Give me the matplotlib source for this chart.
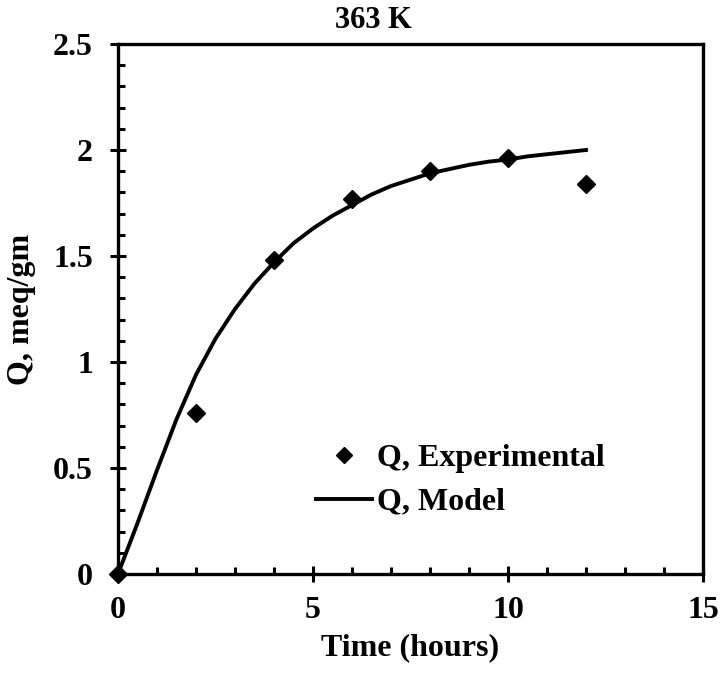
import matplotlib
matplotlib.use("Agg")
import matplotlib.pyplot as plt
from matplotlib.ticker import MultipleLocator

# Data
exp_time = [0, 2, 4, 6, 8, 10, 12]
exp_q = [0, 0.76, 1.48, 1.77, 1.90, 1.96, 1.84]

model_time = [0, 0.5, 1, 1.5, 2, 2.5, 3, 3.5, 4, 4.5, 5, 5.5, 6, 6.5, 7,
              7.5, 8, 8.5, 9, 9.5, 10, 10.5, 11, 11.5, 12]
model_q = [0, 0.24, 0.49, 0.73, 0.94, 1.11, 1.25, 1.37, 1.47, 1.56, 1.63,
           1.69, 1.74, 1.79, 1.83, 1.86, 1.89, 1.91, 1.93, 1.945, 1.955,
           1.97, 1.98, 1.99, 2.00]

title = "363 K"
xlabel = "Time (hours)"
ylabel = "Q, meq/gm"
labels = ["Q, Experimental", "Q, Model"]

plt.rcParams['font.family'] = ['Liberation Serif', 'DejaVu Serif']
plt.rcParams['font.weight'] = 'bold'

W, H = 722, 677
fig = plt.figure(figsize=(W / 100, H / 100), dpi=100)
ax = fig.add_axes([118 / W, 1 - 574 / H, (703 - 118) / W, (574 - 44) / H])

ax.plot(model_time, model_q, color='black', lw=2.8, label=labels[1], zorder=2,
        solid_joinstyle='round')
ax.plot(exp_time, exp_q, linestyle='none', marker='D', color='black',
        markersize=9, label=labels[0], zorder=3, clip_on=False)

ax.set_xlim(0, 15)
ax.set_ylim(0, 2.5)
ax.xaxis.set_minor_locator(MultipleLocator(1))
ax.yaxis.set_minor_locator(MultipleLocator(0.1))
ax.set_xticks([0, 5, 10, 15])
ax.set_xticklabels(['0', '5', '10', '15'])
ax.set_yticks([0, 0.5, 1, 1.5, 2, 2.5])
ax.set_yticklabels(['0', '0.5', '1', '1.5', '2', '2.5'])

for s in ax.spines.values():
    s.set_linewidth(2.4)
ax.tick_params(which='major', direction='inout', length=12, width=2.2,
               labelsize=23, pad=10, top=False, right=False)
ax.tick_params(axis='y', which='major', pad=12)
ax.tick_params(which='minor', direction='in', length=5, width=2.2,
               top=False, right=False)

ax.set_xlabel(xlabel, fontsize=23, fontweight='bold', labelpad=6)
ax.set_ylabel(ylabel, fontsize=23, fontweight='bold', labelpad=12)
fig.text(373 / W, 1 - 20 / H, title, fontsize=22, fontweight='bold',
         ha='center', va='center')

handles, labs = ax.get_legend_handles_labels()
order = [1, 0]
leg = ax.legend([handles[i] for i in order], [labs[i] for i in order],
                loc='center left', bbox_to_anchor=(0.339, 0.177),
                frameon=False, fontsize=23, borderpad=0, borderaxespad=0,
                handlelength=1.75, handletextpad=0.15, labelspacing=0.45,
                markerscale=0.85)

fig.savefig('out.png', dpi=100)
